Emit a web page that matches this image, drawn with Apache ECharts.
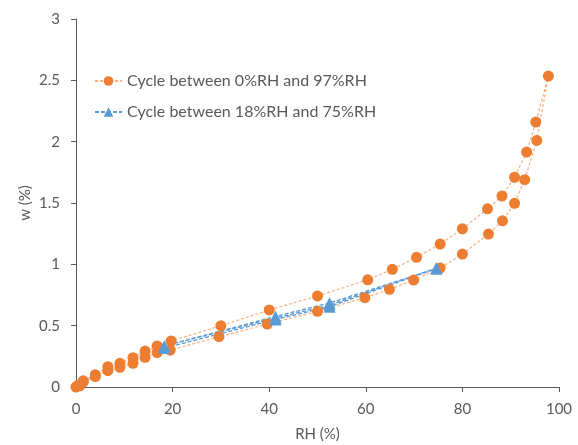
<!DOCTYPE html>
<html style="height: 100%;">
<head>
<meta charset="utf-8">
<title>w vs RH</title>
<script src="https://cdn.jsdelivr.net/npm/echarts@6/dist/echarts.min.js"></script>
</head>
<body style="height: 100%; margin: 0; background: #fff;">
<div id="container" style="width: 578px; height: 445px;"></div>
<script type="text/javascript">
// full cycle 0 -> 97 -> 0 %RH (sorption then desorption)
var rhFull = [0, 0.8, 1.5, 4, 6.6, 9.1, 11.8, 14.3, 16.8, 19.5, 29.6, 39.6, 50, 59.8, 64.9, 69.9, 75.4, 80, 85.4, 88.3, 90.8, 92.9, 95.4, 97.8,
              95.2, 93.3, 90.8, 88.2, 85.2, 80, 75.4, 70.5, 65.5, 60.4, 50, 40, 30, 19.7, 16.8, 14.3, 11.8, 9.1, 6.6, 4, 1.5, 0.3];
var wFull  = [0, 0.01, 0.04, 0.085, 0.133, 0.16, 0.193, 0.242, 0.28, 0.30, 0.41, 0.513, 0.617, 0.728, 0.796, 0.872, 0.97, 1.084, 1.247, 1.355, 1.497, 1.69, 2.01, 2.535,
              2.16, 1.915, 1.71, 1.557, 1.453, 1.29, 1.165, 1.057, 0.959, 0.874, 0.742, 0.628, 0.50, 0.375, 0.334, 0.293, 0.239, 0.193, 0.165, 0.10, 0.05, 0.01];
// partial cycles 18 <-> 75 %RH
var rhPart = [18.3, 41.3, 52.5, 74.6, 52.5, 41.3, 18.3, 41.3, 52.5, 74.6];
var wPart  = [0.318, 0.55, 0.655, 0.965, 0.685, 0.575, 0.335, 0.562, 0.668, 0.97];

var names = ['Cycle between 0%RH and 97%RH', 'Cycle between 18%RH and 75%RH'];

function pairs(xs, ys) {
    return xs.map(function (x, i) { return [x, ys[i]]; });
}

var axisColor = '#595959';
var font = 'Lato';

var myChart = echarts.init(document.getElementById('container'));
myChart.setOption({
    animation: false,
    textStyle: { fontFamily: font },
    grid: { left: 76, right: 19, top: 19, bottom: 58, outerBoundsMode: 'none' },
    legend: {
        left: 89, top: 68, orient: 'vertical', itemGap: 15,
        itemWidth: 27, itemHeight: 12,
        textStyle: { color: axisColor, fontSize: 16, fontFamily: font },
        data: names
    },
    xAxis: {
        type: 'value', min: 0, max: 100, interval: 20,
        name: 'RH (%)', nameLocation: 'middle', nameGap: 40, nameMoveOverlap: false,
        nameTextStyle: { color: axisColor, fontSize: 15 },
        axisLine: { show: true, lineStyle: { color: axisColor, width: 1 } },
        axisTick: { show: true, length: 5, lineStyle: { color: axisColor } },
        axisLabel: { color: axisColor, fontSize: 15, margin: 15 },
        splitLine: { show: false }
    },
    yAxis: {
        type: 'value', min: 0, max: 3, interval: 0.5,
        name: 'w (%)', nameLocation: 'middle', nameGap: 43, nameMoveOverlap: false,
        nameTextStyle: { color: axisColor, fontSize: 15 },
        axisLine: { show: true, lineStyle: { color: axisColor, width: 1 } },
        axisTick: { show: true, length: 5, lineStyle: { color: axisColor } },
        axisLabel: { color: axisColor, fontSize: 15, margin: 16 },
        splitLine: { show: false }
    },
    series: [
        {
            name: names[0], type: 'line', data: pairs(rhFull, wFull),
            symbol: 'circle', symbolSize: 11,
            itemStyle: { color: '#ED7D31' },
            lineStyle: { color: '#F4B183', width: 1.2, type: [3, 2] }
        },
        {
            name: names[1], type: 'line', data: pairs(rhPart, wPart),
            symbol: 'triangle', symbolSize: 12,
            itemStyle: { color: '#5B9BD5' },
            lineStyle: { color: '#5B9BD5', width: 1.3, type: [4, 2] }
        }
    ]
});
</script>
</body>
</html>
